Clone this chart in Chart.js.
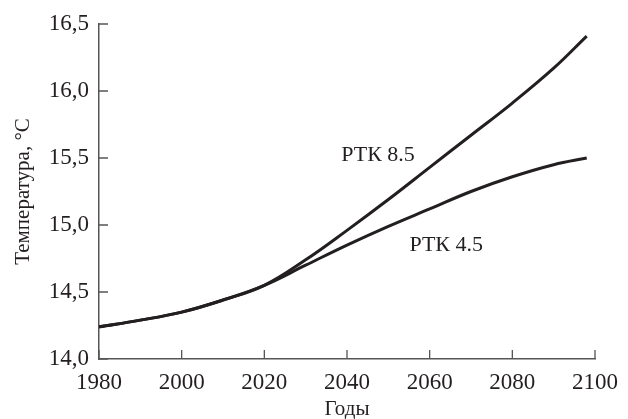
<!DOCTYPE html>
<html>
<head>
<meta charset="utf-8">
<script src="https://cdn.jsdelivr.net/npm/chart.js@4.4.0/dist/chart.umd.min.js"></script>
<style>
  html, body { margin: 0; padding: 0; background: #fff; }
  #wrap { width: 628px; height: 419px; }
</style>
</head>
<body>
<div id="wrap"><canvas id="chart"></canvas></div>
<script>
// years on the x axis (readings taken off the figure)
const years = [1980, 1990, 2000, 2010, 2020, 2030, 2040, 2050, 2060, 2070, 2080, 2090, 2098];
// mean temperature, °C
const rtk85 = [14.24, 14.29, 14.35, 14.44, 14.55, 14.74, 14.96, 15.19, 15.43, 15.67, 15.91, 16.17, 16.41];
const rtk45 = [14.24, 14.29, 14.35, 14.44, 14.55, 14.70, 14.85, 14.99, 15.12, 15.25, 15.36, 15.45, 15.50];

const xTicks = [1980, 2000, 2020, 2040, 2060, 2080, 2100];
const yTicks = [14.0, 14.5, 15.0, 15.5, 16.0, 16.5];

// curve labels, placed in data units
const curveLabels = [
    { text: 'РТК 8.5', year: 2047.5, temp: 15.52 },
    { text: 'РТК 4.5', year: 2064, temp: 14.85 }
];

const ink = '#231f20';
const axisColor = '#555555';
const font = '"Liberation Serif", "Times New Roman", Times, serif';

function toPoints(xs, ys) {
    return xs.map((x, i) => ({ x: x, y: ys[i] }));
}

// short tick marks pointing into the plot area
const innerTicks = {
    id: 'innerTicks',
    afterDraw(chart) {
        const ctx = chart.ctx;
        const xs = chart.scales.x;
        const ys = chart.scales.y;
        const len = 9;
        ctx.save();
        ctx.strokeStyle = axisColor;
        ctx.lineWidth = 1.3;
        ctx.beginPath();
        xTicks.forEach(v => {
            const px = xs.getPixelForValue(v);
            ctx.moveTo(px, ys.bottom);
            ctx.lineTo(px, ys.bottom - len);
        });
        yTicks.forEach(v => {
            const py = ys.getPixelForValue(v);
            ctx.moveTo(xs.left, py);
            ctx.lineTo(xs.left + len, py);
        });
        ctx.stroke();
        ctx.restore();
    }
};

const curveText = {
    id: 'curveText',
    afterDatasetsDraw(chart) {
        const ctx = chart.ctx;
        ctx.save();
        ctx.fillStyle = ink;
        ctx.font = '22px ' + font;
        ctx.textAlign = 'center';
        ctx.textBaseline = 'middle';
        curveLabels.forEach(l => {
            ctx.fillText(l.text, chart.scales.x.getPixelForValue(l.year), chart.scales.y.getPixelForValue(l.temp));
        });
        ctx.restore();
    }
};

new Chart(document.getElementById('chart'), {
    type: 'line',
    data: {
        datasets: [
            {
                label: 'РТК 8.5',
                data: toPoints(years, rtk85),
                borderColor: ink,
                borderWidth: 3,
                pointRadius: 0,
                tension: 0.4,
                fill: false
            },
            {
                label: 'РТК 4.5',
                data: toPoints(years, rtk45),
                borderColor: ink,
                borderWidth: 3,
                pointRadius: 0,
                tension: 0.4,
                fill: false
            }
        ]
    },
    options: {
        responsive: true,
        maintainAspectRatio: false,
        animation: false,
        layout: { padding: { top: 24, right: 25, left: 0, bottom: 0 } },
        plugins: {
            legend: { display: false },
            tooltip: { enabled: false }
        },
        scales: {
            x: {
                type: 'linear',
                min: 1980,
                max: 2100,
                afterBuildTicks: s => { s.ticks = xTicks.map(v => ({ value: v })); },
                afterFit: s => { s.height = 60; },
                grid: { display: false, drawTicks: false },
                border: { display: true, color: axisColor, width: 1.5 },
                ticks: {
                    padding: 10,
                    color: ink,
                    maxRotation: 0,
                    font: { family: font, size: 23 },
                    callback: v => String(v)
                },
                title: {
                    display: true,
                    text: 'Годы',
                    color: ink,
                    padding: { top: 3, bottom: -3 },
                    font: { family: font, size: 21 }
                }
            },
            y: {
                min: 14.0,
                max: 16.5,
                afterBuildTicks: s => { s.ticks = yTicks.map(v => ({ value: v })); },
                afterFit: s => { s.width = 99; },
                grid: { display: false, drawTicks: false },
                border: { display: true, color: axisColor, width: 1.5 },
                ticks: {
                    padding: 10,
                    color: ink,
                    font: { family: font, size: 23 },
                    callback: v => v.toFixed(1).replace('.', ',')
                },
                title: {
                    display: true,
                    text: 'Температура, °C',
                    color: ink,
                    padding: { top: 11, bottom: 0 },
                    font: { family: font, size: 21 }
                }
            }
        }
    },
    plugins: [innerTicks, curveText]
});
</script>
</body>
</html>
